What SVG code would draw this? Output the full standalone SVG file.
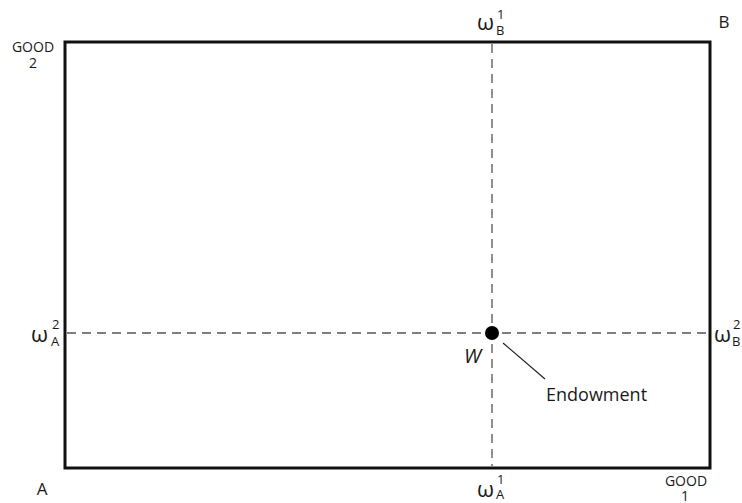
<svg xmlns="http://www.w3.org/2000/svg" width="742" height="503" viewBox="0 0 742 503">
<style>
text{font-family:"Open Sans","Noto Sans",sans-serif;fill:#1a1a1a}
.small{font-size:14px}
.lab{font-size:17px}
.om{font-size:22px}
.sup{font-size:13px}
.dash{stroke:#555;stroke-width:1.3;stroke-dasharray:9,6;fill:none}
</style>
<rect width="742" height="503" fill="#fff"/>
<g id="box"><rect x="65" y="42" width="645" height="426" fill="none" stroke="#111" stroke-width="3"/></g>
<g id="connectors">
<line class="dash" x1="492" y1="44" x2="492" y2="466"/>
<line class="dash" x1="67" y1="333" x2="708" y2="333"/>
<line x1="503" y1="343" x2="545" y2="379" stroke="#222" stroke-width="1.2"/>
</g>
<g id="endowment-point"><circle cx="492" cy="333" r="7" fill="#000"/><text x="464" y="363" font-style="italic" font-size="20">W</text><text x="546" y="401" font-size="18">Endowment</text></g>
<g id="good2"><text x="33" y="52" class="small" text-anchor="middle">GOOD</text><text x="33" y="68" class="small" text-anchor="middle">2</text></g>
<g id="good1"><text x="686" y="486" class="small" text-anchor="middle">GOOD</text><text x="685" y="501" class="small" text-anchor="middle">1</text></g>
<g id="A"><text x="42" y="495" class="lab" text-anchor="middle">A</text></g>
<g id="B"><text x="724" y="28" class="lab" text-anchor="middle">B</text></g>
<g id="wB1"><text x="477" y="30" class="om">ω</text><text x="497" y="19" class="sup">1</text><text x="496" y="35" class="sup">B</text></g>
<g id="wA1"><text x="477" y="497" class="om">ω</text><text x="497" y="484" class="sup">1</text><text x="496" y="499" class="sup">A</text></g>
<g id="wA2"><text x="31" y="342" class="om">ω</text><text x="52" y="329" class="sup">2</text><text x="51" y="346" class="sup">A</text></g>
<g id="wB2"><text x="714" y="342" class="om">ω</text><text x="733" y="329" class="sup">2</text><text x="732" y="346" class="sup">B</text></g>
</svg>
